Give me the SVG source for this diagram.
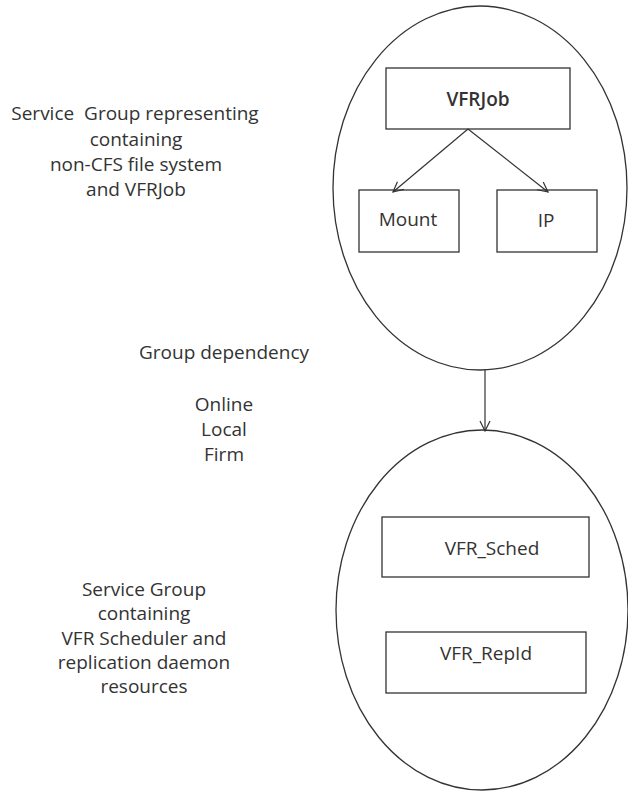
<svg xmlns="http://www.w3.org/2000/svg" width="628" height="793" viewBox="0 0 628 793">
<defs>
<marker id="arr" viewBox="0 0 12 12" refX="11" refY="6" markerWidth="12" markerHeight="12" markerUnits="userSpaceOnUse" orient="auto">
<path d="M1,1 L11,6 L1,11" fill="none" stroke="#333" stroke-width="1.2"/>
</marker>
<style>
.shape{fill:#fff;stroke:#333;stroke-width:1.3}
.lbl{font-family:"Open Sans","DejaVu Sans",sans-serif;font-size:19px;fill:#333;text-anchor:middle}
.edge{stroke:#333;stroke-width:1.2;fill:none;marker-end:url(#arr)}
</style>
</defs>
<rect width="628" height="793" fill="#fff"/>
<g id="sg1">
<ellipse class="shape" cx="480" cy="188" rx="147" ry="182"/>
</g>
<g id="sg2">
<ellipse class="shape" cx="482" cy="610" rx="146" ry="180"/>
</g>
<g id="vfrjob">
<rect class="shape" x="386" y="68" width="184" height="61"/>
<text class="lbl" x="478" y="106" font-weight="600">VFRJob</text>
</g>
<g id="mount">
<rect class="shape" x="359" y="190" width="100" height="62"/>
<text class="lbl" x="408" y="226">Mount</text>
</g>
<g id="ip">
<rect class="shape" x="497" y="190" width="100" height="62"/>
<text class="lbl" x="546" y="227">IP</text>
</g>
<g id="vfrsched">
<rect class="shape" x="382" y="517" width="207" height="60"/>
<text class="lbl" x="492" y="555">VFR_Sched</text>
</g>
<g id="vfrrepld">
<rect class="shape" x="386" y="632" width="200" height="61"/>
<text class="lbl" x="486" y="660">VFR_RepId</text>
</g>
<g id="connectors">
<line class="edge" x1="468" y1="129" x2="393" y2="192"/>
<line class="edge" x1="468" y1="129" x2="548" y2="192"/>
<line class="edge" x1="485" y1="370" x2="485" y2="431"/>
</g>
<g id="labels">
<text class="lbl" xml:space="preserve"><tspan x="135" y="120">Service  Group representing</tspan><tspan x="136" y="146">containing</tspan><tspan x="136" y="171">non-CFS file system</tspan><tspan x="136" y="196">and VFRJob</tspan></text>
<text class="lbl"><tspan x="224" y="359">Group dependency</tspan><tspan x="224" y="411">Online</tspan><tspan x="224" y="436">Local</tspan><tspan x="224" y="461">Firm</tspan></text>
<text class="lbl"><tspan x="144" y="596">Service Group</tspan><tspan x="144" y="620">containing</tspan><tspan x="144" y="645">VFR Scheduler and</tspan><tspan x="144" y="669">replication daemon</tspan><tspan x="144" y="693">resources</tspan></text>
</g>
</svg>
